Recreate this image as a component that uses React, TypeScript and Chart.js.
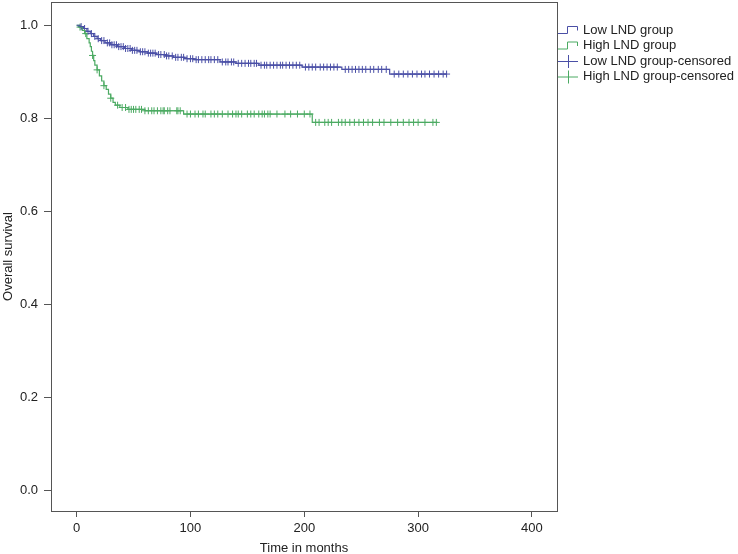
import React, { useEffect, useRef } from "react";
import { Chart, registerables } from "chart.js";

Chart.register(...registerables);

// Kaplan-Meier step points (time in months, survival)
const lowTimes = [0, 3, 6, 9, 12, 15, 18, 21, 25, 30, 36, 42, 48, 55, 62, 70, 78, 85, 95, 103, 126, 140, 160, 198, 233, 275];
const lowSurv = [1.0, 0.997, 0.993, 0.987, 0.982, 0.976, 0.971, 0.967, 0.962, 0.958, 0.954, 0.95, 0.946, 0.943, 0.94, 0.937, 0.934, 0.931, 0.928, 0.926, 0.921, 0.918, 0.914, 0.91, 0.905, 0.895];
const lowEnd = 325;

const highTimes = [0, 2, 5, 7, 9, 11, 12, 13, 14, 15, 16, 18, 20, 22, 24, 26, 28, 30, 32, 34, 38, 45, 60, 94, 207];
const highSurv = [1.0, 0.996, 0.989, 0.982, 0.971, 0.962, 0.954, 0.944, 0.935, 0.924, 0.914, 0.904, 0.891, 0.88, 0.87, 0.862, 0.852, 0.843, 0.834, 0.828, 0.823, 0.819, 0.816, 0.809, 0.791];
const highEnd = 317;

// censoring times
const lowCensor = [4, 7, 10, 13, 16, 19, 22, 24, 27, 29, 31, 33, 35, 37, 39, 41, 43, 45, 47, 49, 51, 53, 56, 58, 60, 63, 65, 67, 69, 72, 74, 77, 79, 81, 84, 87, 89, 92, 94, 97, 100, 102, 105, 107, 110, 113, 116, 118, 121, 124, 128, 131, 133, 136, 138, 142, 145, 148, 151, 153, 156, 158, 162, 165, 167, 170, 173, 176, 179, 181, 184, 187, 190, 193, 196, 201, 204, 207, 210, 214, 217, 220, 223, 226, 229, 236, 239, 242, 245, 248, 251, 254, 258, 261, 265, 268, 272, 279, 283, 287, 291, 295, 299, 303, 306, 310, 314, 318, 322, 325];
const highCensor = [3, 8, 14, 18, 24, 30, 36, 40, 43, 46, 48, 50, 52, 55, 57, 60, 63, 66, 68, 71, 74, 76, 77, 80, 82, 88, 89, 91, 97, 100, 104, 107, 111, 113, 118, 121, 124, 128, 133, 137, 140, 142, 145, 150, 153, 156, 160, 163, 165, 168, 170, 176, 183, 188, 194, 200, 205, 210, 213, 218, 221, 224, 230, 233, 236, 240, 244, 248, 252, 256, 260, 266, 270, 276, 282, 287, 292, 296, 300, 306, 313, 316];

const xTicks = [0, 100, 200, 300, 400];
const yTicks = [0.0, 0.2, 0.4, 0.6, 0.8, 1.0];

const legendLabels = ["Low LND group", "High LND group", "Low LND group-censored", "High LND group-censored"];

const BLUE = "#4A4FA6";
const GREEN = "#4BAA62";
const AXIS = "#555555";
const TEXT = "#222222";
const FONT = "'Liberation Sans', Arial, sans-serif";

function stepPoints(times: number[], surv: number[], end: number) {
  const pts = times.map((t, i) => ({ x: t, y: surv[i] }));
  pts.push({ x: end, y: surv[surv.length - 1] });
  return pts;
}

function survAt(times: number[], surv: number[], t: number) {
  let v = surv[0];
  for (let i = 0; i < times.length; i++) {
    if (times[i] <= t) v = surv[i];
  }
  return v;
}

function censorPoints(c: number[], times: number[], surv: number[]) {
  return c.map((t) => ({ x: t, y: survAt(times, surv, t) }));
}

const framePlugin = {
  id: "frame",
  beforeDatasetsDraw(chart: any) {
    const { ctx, chartArea } = chart;
    const { left, top, right, bottom } = chartArea;
    ctx.save();
    ctx.strokeStyle = AXIS;
    ctx.lineWidth = 1;
    ctx.strokeRect(Math.round(left) + 0.5, Math.round(top) + 0.5, Math.round(right - left), Math.round(bottom - top));
    ctx.restore();
  },
};

const legendPlugin = {
  id: "kmLegend",
  afterDraw(chart: any) {
    const { ctx, chartArea } = chart;
    const x0 = chartArea.right + 1;
    const rows = [30, 45.5, 61, 76.5];
    const colors = [BLUE, GREEN, BLUE, GREEN];
    ctx.save();
    ctx.lineWidth = 1;
    rows.forEach((y, i) => {
      ctx.strokeStyle = colors[i];
      ctx.beginPath();
      if (i < 2) {
        ctx.moveTo(x0, y + 3.5);
        ctx.lineTo(x0 + 9.5, y + 3.5);
        ctx.lineTo(x0 + 9.5, y - 3.5);
        ctx.lineTo(x0 + 19.5, y - 3.5);
        ctx.lineTo(x0 + 19.5, y + 0.5);
      } else {
        ctx.moveTo(x0, y + 0.5);
        ctx.lineTo(x0 + 20, y + 0.5);
        ctx.moveTo(x0 + 10.5, y - 6);
        ctx.lineTo(x0 + 10.5, y + 7);
      }
      ctx.stroke();
      ctx.fillStyle = TEXT;
      ctx.font = `13px ${FONT}`;
      ctx.textBaseline = "middle";
      ctx.textAlign = "left";
      ctx.fillText(legendLabels[i], x0 + 25, y);
    });
    ctx.restore();
  },
};

export default function App() {
  const ref = useRef<HTMLCanvasElement | null>(null);

  useEffect(() => {
    document.body.style.margin = "0";
    const canvas = ref.current;
    if (!canvas) return;
    const chart = new Chart(canvas, {
      type: "scatter",
      data: {
        datasets: [
          {
            label: legendLabels[0],
            type: "line",
            data: stepPoints(lowTimes, lowSurv, lowEnd),
            borderColor: BLUE,
            borderWidth: 1.2,
            stepped: "before",
            pointRadius: 0,
            fill: false,
          },
          {
            label: legendLabels[1],
            type: "line",
            data: stepPoints(highTimes, highSurv, highEnd),
            borderColor: GREEN,
            borderWidth: 1.2,
            stepped: "before",
            pointRadius: 0,
            fill: false,
          },
          {
            label: legendLabels[2],
            data: censorPoints(lowCensor, lowTimes, lowSurv),
            pointStyle: "cross",
            pointRadius: 3.5,
            borderColor: BLUE,
            backgroundColor: BLUE,
            borderWidth: 1,
          },
          {
            label: legendLabels[3],
            data: censorPoints(highCensor, highTimes, highSurv),
            pointStyle: "cross",
            pointRadius: 3.5,
            borderColor: GREEN,
            backgroundColor: GREEN,
            borderWidth: 1,
          },
        ],
      } as any,
      options: {
        responsive: false,
        animation: false,
        layout: { autoPadding: false, padding: { top: 2, right: 181, left: 0, bottom: 0 } },
        plugins: {
          legend: { display: false },
          tooltip: { enabled: false },
        },
        scales: {
          x: {
            type: "linear",
            min: -22.5,
            max: 422,
            afterBuildTicks: (scale: any) => {
              scale.ticks = xTicks.map((v) => ({ value: v }));
            },
            afterFit: (scale: any) => {
              scale.height = 43;
              scale.paddingLeft = 0;
              scale.paddingRight = 0;
            },
            border: { display: false },
            grid: { display: true, drawOnChartArea: false, drawTicks: true, tickLength: 6, color: AXIS },
            ticks: {
              color: TEXT,
              font: { size: 13, family: FONT },
              padding: 4,
              maxRotation: 0,
              callback: (v: any) => String(v),
            },
            title: {
              display: true,
              text: "Time in months",
              color: TEXT,
              font: { size: 13, family: FONT },
              padding: { top: 0, bottom: -2 },
            },
          },
          y: {
            type: "linear",
            min: -0.045,
            max: 1.05,
            afterBuildTicks: (scale: any) => {
              scale.ticks = yTicks.map((v) => ({ value: v }));
            },
            afterFit: (scale: any) => {
              scale.width = 51;
              scale.paddingTop = 0;
              scale.paddingBottom = 0;
            },
            border: { display: false },
            grid: { display: true, drawOnChartArea: false, drawTicks: true, tickLength: 7, color: AXIS },
            ticks: {
              color: TEXT,
              font: { size: 13, family: FONT },
              padding: 6,
              callback: (v: any) => Number(v).toFixed(1),
            },
            title: {
              display: true,
              text: "Overall survival",
              color: TEXT,
              font: { size: 13, family: FONT },
              padding: { top: 1, bottom: 0 },
            },
          },
        },
      } as any,
      plugins: [framePlugin, legendPlugin],
    });
    return () => chart.destroy();
  }, []);

  return (
    <div style={{ width: 738, height: 554 }}>
      <canvas ref={ref} width={738} height={554} style={{ display: "block" }} />
    </div>
  );
}
